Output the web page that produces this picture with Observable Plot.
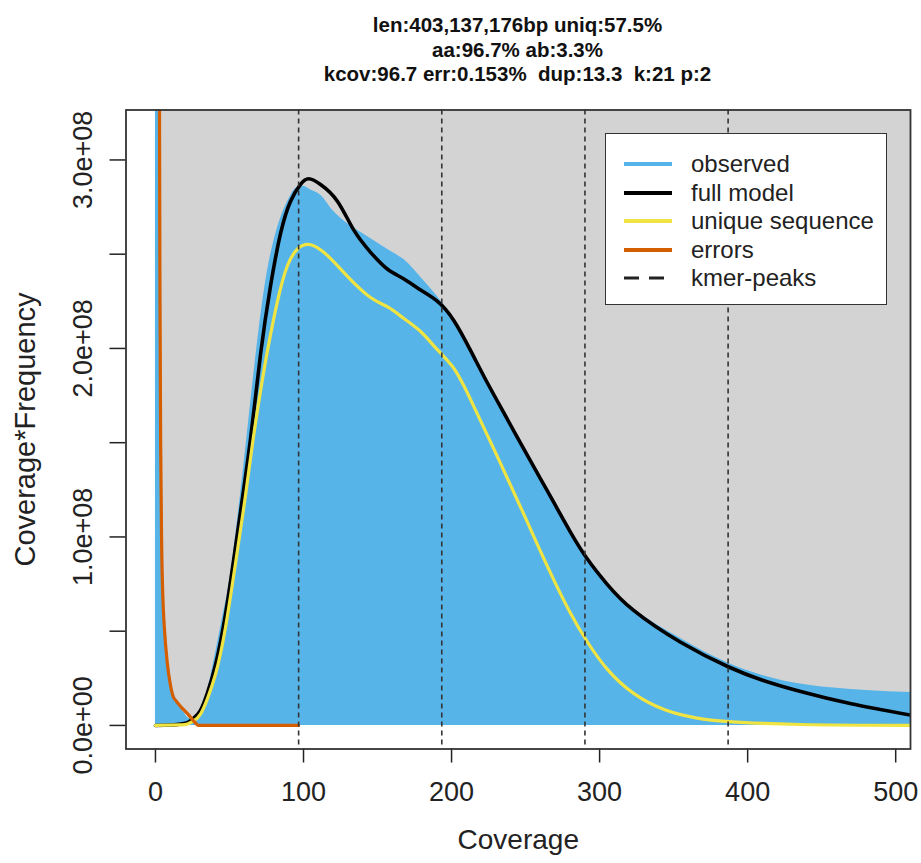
<!DOCTYPE html>
<html>
<head>
<meta charset="utf-8">
<script src="https://cdn.jsdelivr.net/npm/d3@7"></script>
<script src="https://cdn.jsdelivr.net/npm/@observablehq/plot@0.6"></script>
<style>
  html, body { margin: 0; padding: 0; background: #fff; }
  #page { position: relative; width: 921px; height: 863px; font-family: "Liberation Sans", Arial, Helvetica, sans-serif; }
  #title { position: absolute; left: 125px; width: 785px; top: 13px; text-align: center; font-weight: bold; font-size: 20.5px; line-height: 24.5px; color: #111; white-space: pre; }
  #chart { position: absolute; left: 0; top: 90px; }
  #legend { position: absolute; left: 605px; top: 133px; width: 282px; height: 172px; background: #fff; border: 1.6px solid #333; box-sizing: border-box; }
  .lg-row { position: absolute; left: 0; height: 28px; display: flex; align-items: center; font-size: 24px; color: #222; }
  .lg-row svg { margin-left: 18px; margin-right: 19px; }
</style>
</head>
<body>
<div id="page">
  <div id="title"></div>
  <div id="chart"></div>
  <div id="legend"></div>
</div>
<script>
// ---- Title lines ----
const titleLines = [
  "len:403,137,176bp uniq:57.5%",
  "aa:96.7% ab:3.3%",
  "kcov:96.7 err:0.153%  dup:13.3  k:21 p:2"
];

// ---- Axis ticks ----
const xTicks = [0, 100, 200, 300, 400, 500];
const yTickMarks = [0, 0.5, 1, 1.5, 2, 2.5, 3];   // in units of 1e8
const yTickLabels = [0, 1, 2, 3];                 // in units of 1e8
const yUnit = 1e8;

// ---- kmer peaks (dashed lines) ----
const kmerPeaks = [96.7, 193.4, 290.1, 386.8];

// ---- Background panel (lightgrey rect) ----
const panelX = [0, 540];
const panelY = [0, 4];

// ---- Observed (blue area), y in units of 1e8 ----
const observedX = [0, 2.4, 3.0, 3.6, 4.3, 5, 6, 8, 10, 12, 16, 20, 22, 24, 27, 30, 35, 40, 45, 50, 55, 60, 65, 70, 75, 80, 85, 90, 95, 100, 105, 112, 120, 130, 140, 150, 160, 168, 180, 190, 200, 212.8, 233, 250, 265, 280, 292, 305, 323, 355, 387, 410, 425, 440, 460, 480, 510];
const observedY = [10, 10, 3.0, 1.7, 1.05, 0.74, 0.56, 0.37, 0.26, 0.185, 0.11, 0.06, 0.04, 0.037, 0.05, 0.08, 0.18, 0.36, 0.56, 0.76, 1.06, 1.40, 1.76, 2.10, 2.38, 2.57, 2.70, 2.79, 2.85, 2.86, 2.84, 2.81, 2.73, 2.66, 2.61, 2.56, 2.51, 2.47, 2.37, 2.28, 2.17, 1.99, 1.69, 1.45, 1.24, 1.03, 0.88, 0.75, 0.62, 0.46, 0.33, 0.265, 0.235, 0.215, 0.197, 0.186, 0.175];

// ---- Full model (black) ----
const fullX = [0, 10, 16, 21.6, 26, 30.4, 35, 40.5, 47.3, 55.4, 64.2, 71, 77.7, 84.5, 91.2, 98, 103.4, 111.5, 123, 133.8, 145.3, 156.8, 167.6, 179.1, 190.5, 201.4, 212.8, 222, 233.1, 250, 265, 280, 292, 305, 323, 355, 387.2, 410, 435.8, 470, 510];
const fullY = [0, 0.002, 0.006, 0.015, 0.04, 0.08, 0.17, 0.32, 0.59, 1.02, 1.52, 1.97, 2.33, 2.61, 2.78, 2.87, 2.90, 2.87, 2.78, 2.63, 2.51, 2.42, 2.37, 2.31, 2.25, 2.15, 1.99, 1.85, 1.69, 1.45, 1.24, 1.03, 0.88, 0.75, 0.61, 0.44, 0.31, 0.24, 0.18, 0.115, 0.055];

// ---- Unique sequence (yellow) ----
const uniqueX = [0, 16, 21.6, 26, 30.4, 35, 40.5, 47.3, 55.4, 60.8, 66, 71.5, 75.7, 82.4, 89.2, 96.3, 105, 116.6, 130, 145.3, 156.8, 167.6, 179.1, 188.5, 201, 212.8, 233.1, 250, 265, 280, 292, 305, 323, 345, 365, 387.2, 436, 510];
const uniqueY = [0, 0.003, 0.008, 0.025, 0.06, 0.14, 0.27, 0.52, 0.93, 1.22, 1.52, 1.80, 1.99, 2.25, 2.44, 2.53, 2.55, 2.49, 2.38, 2.27, 2.22, 2.16, 2.09, 2.01, 1.90, 1.73, 1.39, 1.10, 0.84, 0.60, 0.44, 0.30, 0.17, 0.08, 0.04, 0.02, 0.005, 0];

// ---- Errors (orange) ----
const errorsX = [2.5, 3.0, 3.5, 4.2, 5, 6, 8, 10, 12, 14, 16, 18, 20, 22, 24, 26, 28, 29, 40, 60, 80, 96.7];
const errorsY = [4.0, 2.4, 1.5, 0.95, 0.68, 0.52, 0.33, 0.22, 0.152, 0.13, 0.11, 0.092, 0.076, 0.06, 0.041, 0.022, 0.005, 0, 0, 0, 0, 0];

// ---- Legend ----
const legendLabels = ["observed", "full model", "unique sequence", "errors", "kmer-peaks"];
const legendColors = ["#56B4E9", "#000000", "#F0E442", "#D55E00", "#222222"];
const legendDash = [null, null, null, null, "15,10"];

const zip = (xs, ys) => xs.map((x, i) => ({x, y: ys[i] * yUnit}));
const observed = zip(observedX, observedY);
const full = zip(fullX, fullY);
const unique = zip(uniqueX, uniqueY);
const errors = zip(errorsX, errorsY);

const fmtY = v => (v * yUnit).toExponential(1).replace(/e([+-])(\d)$/, "e$10$2");

document.getElementById("title").textContent = titleLines.join("\n");

const chart = Plot.plot({
  width: 921,
  height: 773,
  marginLeft: 125.5,
  marginRight: 11,
  marginTop: 19.5,
  marginBottom: 114.5,
  style: { fontFamily: '"Liberation Sans", Arial, Helvetica, sans-serif', color: "#222", background: "white", overflow: "visible" },
  x: { domain: [-19.9, 510] },
  y: { domain: [-0.125 * yUnit, 3.265 * yUnit] },
  marks: [
    Plot.rect([0], { x1: () => panelX[0], x2: () => panelX[1], y1: () => panelY[0] * yUnit, y2: () => panelY[1] * yUnit, fill: "#d3d3d3", clip: true }),
    Plot.areaY(observed, { x: "x", y: "y", fill: "#56B4E9", curve: "monotone-x", clip: true }),
    Plot.line(full, { x: "x", y: "y", stroke: "#000", strokeWidth: 3.6, curve: "natural", clip: true }),
    Plot.line(unique, { x: "x", y: "y", stroke: "#F0E442", strokeWidth: 3.2, curve: "natural", clip: true }),
    Plot.line(errors, { x: "x", y: "y", stroke: "#D55E00", strokeWidth: 3.2, curve: "monotone-x", clip: true }),
    Plot.ruleX(kmerPeaks, { stroke: "#333", strokeWidth: 1.6, strokeDasharray: "5,4" }),
    Plot.axisX(xTicks, { tickSize: 14, tickPadding: 19, fontSize: 27, tickFormat: d => String(d), label: null, strokeWidth: 1.5 }),
    Plot.axisY(yTickMarks.map(v => v * yUnit), { tickSize: 16, tickFormat: () => "", label: null, strokeWidth: 1.5 }),
    Plot.text(yTickLabels, { y: d => d * yUnit, text: d => fmtY(d), frameAnchor: "left", textAnchor: "middle", dx: -43, rotate: -90, fontSize: 27, fill: "#222" }),
    Plot.text(["Coverage*Frequency"], { text: d => d, frameAnchor: "left", textAnchor: "middle", dx: -100.5, rotate: -90, fontSize: 29, fill: "#222" }),
    Plot.text(["Coverage"], { text: d => d, frameAnchor: "bottom", dy: 99.5, fontSize: 28, fill: "#222" }),
    Plot.frame({ stroke: "#333", strokeWidth: 1.8 })
  ]
});
document.getElementById("chart").appendChild(chart);

// legend
const legend = document.getElementById("legend");
legendLabels.forEach((lab, i) => {
  const row = document.createElement("div");
  row.className = "lg-row";
  row.style.top = (16 + i * 28.5) + "px";
  const dash = legendDash[i] ? `stroke-dasharray="${legendDash[i]}"` : "";
  row.innerHTML = `<svg width="48" height="10"><line x1="0" x2="48" y1="5" y2="5" stroke="${legendColors[i]}" stroke-width="${legendDash[i] ? 3 : 4}" ${dash}/></svg><span>${lab}</span>`;
  legend.appendChild(row);
});
</script>
</body>
</html>
